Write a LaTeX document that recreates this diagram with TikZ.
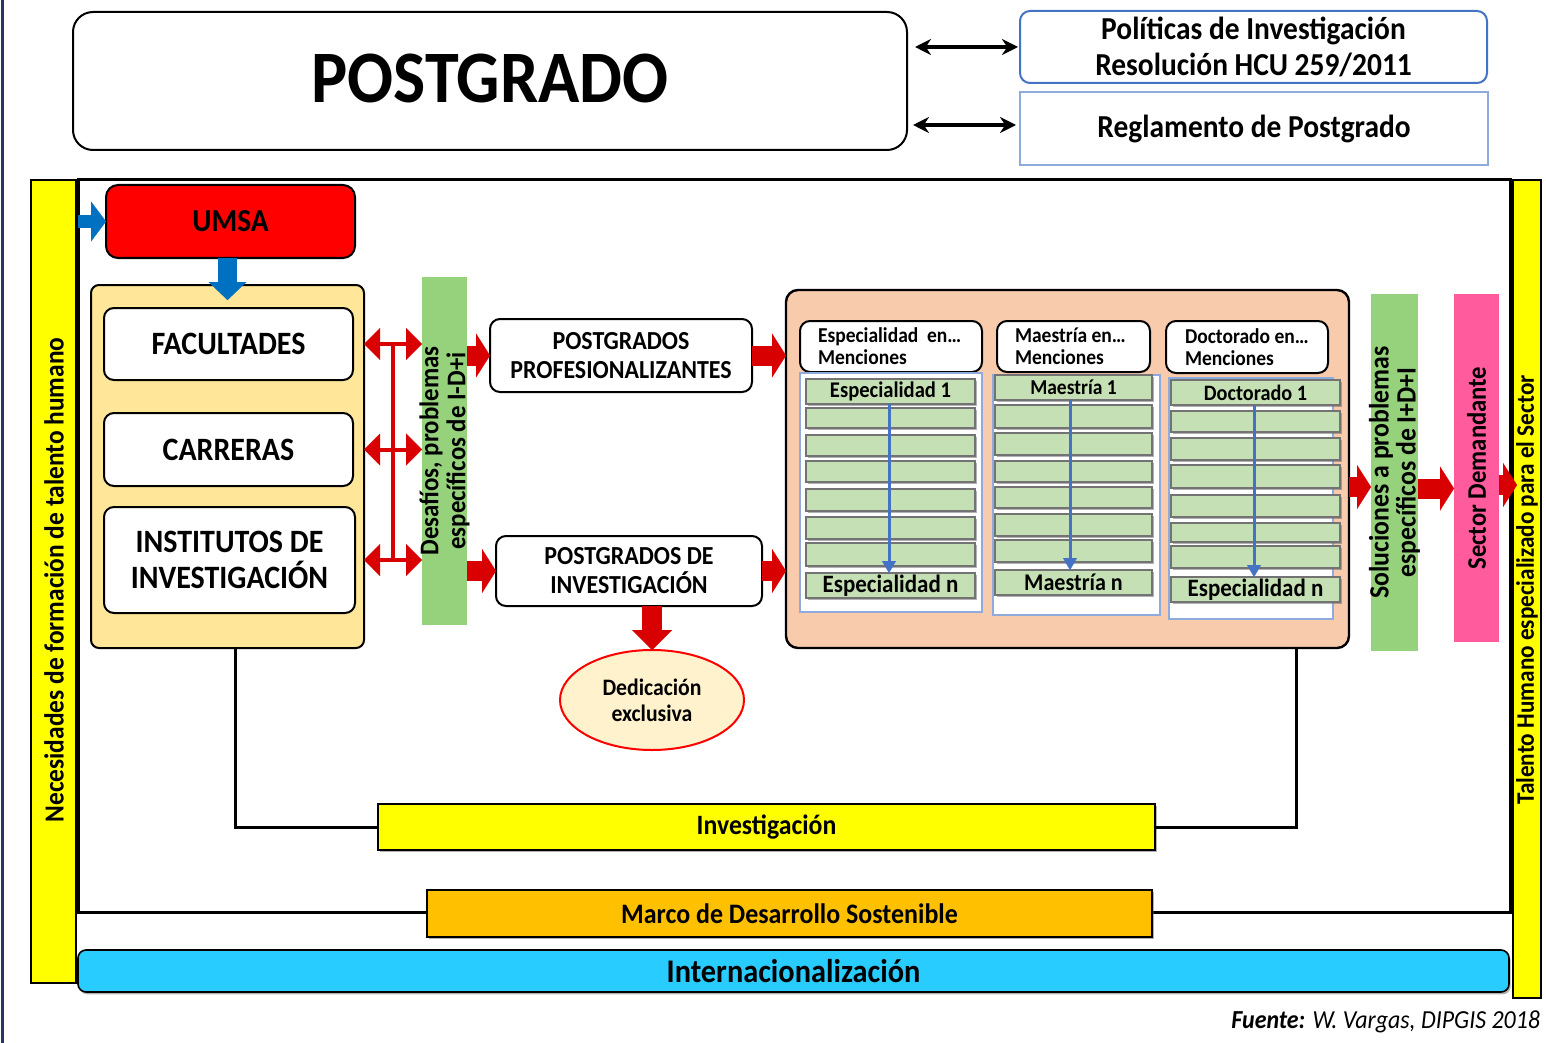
\documentclass[tikz,border=0pt]{standalone}
\usepackage{fontspec}
\setmainfont{Carlito}[FakeStretch=0.92]
\usetikzlibrary{arrows.meta,fit,shapes.geometric,calc,shadows}
\definecolor{cRed}{HTML}{FF0000}
\definecolor{cArrRed}{HTML}{D80000}
\definecolor{cBlue}{HTML}{0070C0}
\definecolor{cLBlue}{HTML}{4472C4}
\definecolor{cPale}{HTML}{8FAADC}
\definecolor{cCream}{HTML}{FFE699}
\definecolor{cGreen}{HTML}{96D17C}
\definecolor{cLGreen}{HTML}{C5E0B4}
\definecolor{cSalmon}{HTML}{F8CBAD}
\definecolor{cPink}{HTML}{FF5B9D}
\definecolor{cYellow}{HTML}{FFFF00}
\definecolor{cGold}{HTML}{FFC000}
\definecolor{cCyan}{HTML}{29CCFF}
\definecolor{cEll}{HTML}{FFF2CC}
\definecolor{cEdge}{HTML}{1F3864}
\newcommand\fsz[2]{\fontsize{#1}{#2}\selectfont\bfseries}
\begin{document}
\begin{tikzpicture}[x=0.5pt,y=-0.5pt,
  every node/.style={inner sep=0pt, outer sep=0pt},
  fitbox/.style={fit={#1}, inner sep=0pt},
  wbox/.style={draw=black, fill=white, line width=1pt, rounded corners=5pt},
  gbar/.style={draw=black!55, fill=cLGreen, line width=0.8pt},
  shad/.style={drop shadow={shadow xshift=0.8pt, shadow yshift=-1.2pt, fill=black!60}},
  redblk/.style={draw=cArrRed, line width=10pt, -{Triangle[length=7pt,width=22pt,line width=0.01pt]}},
  reddbl/.style={draw=cArrRed, line width=2pt, {Triangle[length=8pt,width=16pt,line width=0.01pt]}-{Triangle[length=8pt,width=16pt,line width=0.01pt]}},
  colarrow/.style={draw=cLBlue, line width=1.5pt, -{Triangle[length=6pt,width=7pt,line width=0.01pt]}},
  blkdbl/.style={line width=2pt, {Stealth[length=8pt,width=8pt]}-{Stealth[length=8pt,width=8pt]}}
]
\useasboundingbox (0,0) rectangle (1546,1043);
\fill[white] (0,0) rectangle (1546,1043);
\draw[cEdge, line width=1.5pt] (2,0) -- (2,1043);

% top
\node[wbox, rounded corners=10pt, fitbox={(73,12)(907,150)}] (pg) {};
\node[font=\fsz{37}{40}] (pgt) at ([yshift=1.5pt]pg) {POSTGRADO};
\node[fill=white, draw=cLBlue, line width=1pt, rounded corners=5pt, fitbox={(1020,11)(1487,83)}] (pol) {};
\node[align=center, font=\fsz{16}{18}] (polt) at (pol) {Políticas de Investigación\\Resolución HCU 259/2011};
\node[fill=white, draw=cPale, line width=0.8pt, fitbox={(1020,92)(1488,165)}] (reg) {};
\node[font=\fsz{16}{18}] (regt) at (reg) {Reglamento de Postgrado};
\draw[blkdbl] ([xshift=4pt]pg.east |- pol.west) -- ([xshift=-1pt]pol.west);
\draw[blkdbl] ([xshift=3pt]pg.east |- 0,125) -- ([xshift=-2pt]reg.west |- 0,125);

% frame and side bars
\node[draw, line width=1.5pt, fitbox={(78,180)(1510,912)}] (frame) {};
\node[fill=cYellow, draw, line width=0.8pt, fitbox={(31,180)(76,983)}] (lbar) {};
\node[rotate=90, font=\fsz{13.8}{15}] (ltxt) at (54,580) {Necesidades de formación de talento humano};
\node[fill=cYellow, draw, line width=0.8pt, fitbox={(1513,180)(1541,998)}] (rbar) {};
\node[rotate=90, font=\fsz{12.6}{13}] (rtxt) at (1527,590) {Talento Humano especializado para el Sector};

% UMSA and left block
\node[fill=cRed, draw, line width=1pt, rounded corners=6pt, fitbox={(106,185)(355,258)}] (umsa) {};
\node[font=\fsz{16}{18}] (umsat) at (umsa) {UMSA};
\node[fill=cCream, draw, line width=1pt, rounded corners=4pt, fitbox={(91,285)(364,648)}] (yb) {};
\draw[cBlue, line width=6.5pt, -{Triangle[length=7.5pt,width=20pt,line width=0.01pt]}] (frame.west |- umsa.west) -- (umsa.west);
\draw[cBlue, line width=9.5pt, -{Triangle[length=9pt,width=19pt,line width=0.01pt]}] ([xshift=-1.5pt]umsa.south) -- ([xshift=-1.5pt,yshift=-7.5pt]umsa.south |- yb.north);
\node[wbox, fitbox={(104,308)(353,380)}] (fac) {};
\node[font=\fsz{16.3}{18}] (fact) at (fac) {FACULTADES};
\node[wbox, fitbox={(104,413)(353,486)}] (car) {};
\node[font=\fsz{16.3}{18}] (cart) at (car) {CARRERAS};
\node[wbox, fitbox={(104,507)(355,613)}] (inst) {};
\node[align=center, font=\fsz{16.3}{18}] (instt) at (inst) {INSTITUTOS DE\\INVESTIGACIÓN};

% desafios bar
\node[fill=cGreen, fitbox={(422,277)(467,625)}] (des) {};
\node[rotate=90, align=center, font=\fsz{13.5}{13.5}] (destxt) at (des) {Desafíos, problemas\\específicos de I-D+i};
\foreach \n in {fac,car,inst}
  \draw[reddbl] (yb.east |- \n.east) -- (des.west |- \n.east);
\draw[cArrRed, line width=2pt] ($(yb.east |- fac.east)!0.5!(des.west |- fac.east)$) -- ($(yb.east |- inst.east)!0.5!(des.west |- inst.east)$);

% postgrado types
\node[wbox, fitbox={(490,319)(752,392)}] (ppro) {};
\node[align=center, font=\fsz{13}{14.5}] (pprot) at (ppro) {POSTGRADOS\\PROFESIONALIZANTES};
\node[wbox, fitbox={(496,536)(762,606)}] (pdi) {};
\node[align=center, font=\fsz{13}{14.5}] (pdit) at (pdi) {POSTGRADOS DE\\INVESTIGACIÓN};
\node[ellipse, draw=cRed, fill=cEll, line width=1pt, minimum width=92pt, minimum height=50pt, align=center, font=\fsz{11.8}{13}] (ded) at (652,700) {Dedicación\\exclusiva};
\draw[redblk] (des.east |- ppro.west) -- (ppro.west);
\draw[redblk] (des.east |- pdi.west) -- (pdi.west);
\draw[redblk, -{Triangle[length=10pt,width=20pt,line width=0.01pt]}] (ded.north |- pdi.south) -- (ded.north);

% salmon block
\node[fill=cSalmon, draw, line width=1.2pt, rounded corners=6pt, fitbox={(786,290)(1349,648)}] (sal) {};
\draw[redblk] (ppro.east) -- (sal.west |- ppro.east);
\draw[redblk] (pdi.east) -- (sal.west |- pdi.east);

\node[wbox, fitbox={(800,321)(982,372)}] (h1) {};
\node[anchor=west, align=left, font=\fsz{10.6}{11}] (h1t) at ([xshift=9pt]h1.west) {Especialidad\ \ en…\\Menciones};
\node[wbox, fitbox={(997,321)(1150,372)}] (h2) {};
\node[anchor=west, align=left, font=\fsz{10.6}{11}] (h2t) at ([xshift=9pt]h2.west) {Maestría en…\\Menciones};
\node[wbox, fitbox={(1166,321)(1328,373)}] (h3) {};
\node[anchor=west, align=left, font=\fsz{10.6}{11}] (h3t) at ([xshift=9.5pt]h3.west) {Doctorado en…\\Menciones};
\node[fill=white, draw=cPale, line width=0.8pt, fitbox={(800,373)(982,612)}] (f1) {};
\node[fill=white, draw=cPale, line width=0.8pt, fitbox={(993,375)(1160,615)}] (f2) {};
\node[fill=white, draw=cPale, line width=0.8pt, fitbox={(1169,378)(1333,619)}] (f3) {};

\node[gbar, shad, fitbox={(806,379)(975,404)}] (a1) {};
\foreach \i/\a/\b in {2/408/428,3/435/456,4/461/482,5/489/511,6/517/539,7/543/566}
  \node[gbar, shad, fitbox={(806,\a)(975,\b)}] (a\i) {};
\node[gbar, shad, fitbox={(806,573)(975,598)}] (a8) {};
\node[font=\fsz{11.2}{12}] (a1t) at (a1) {Especialidad 1};
\node[font=\fsz{12.5}{13}] (a8t) at (a8) {Especialidad n};

\node[gbar, shad, fitbox={(995,375)(1152,400)}] (b1) {};
\foreach \i/\a/\b in {2/405/428,3/433/455,4/461/482,5/487/508,6/514/536,7/540/562}
  \node[gbar, shad, fitbox={(995,\a)(1152,\b)}] (b\i) {};
\node[gbar, shad, fitbox={(995,570)(1152,595)}] (b8) {};
\node[font=\fsz{10.6}{12}] (b1t) at (b1) {Maestría 1};
\node[font=\fsz{12}{13}] (b8t) at (b8) {Maestría n};

\node[gbar, shad, fitbox={(1171,380)(1340,405)}] (c1) {};
\foreach \i/\a/\b in {2/411/432,3/438/460,4/465/488,5/495/517,6/523/542,7/546/568}
  \node[gbar, shad, fitbox={(1171,\a)(1340,\b)}] (c\i) {};
\node[gbar, shad, fitbox={(1171,577)(1340,602)}] (c8) {};
\node[font=\fsz{11}{12}] (c1t) at (c1) {Doctorado 1};
\node[font=\fsz{12.5}{13}] (c8t) at (c8) {Especialidad n};

\draw[colarrow] ([xshift=-0.75pt]a1.south) -- ([xshift=-0.75pt]a8.north);
\draw[colarrow] ([xshift=-1.75pt]b1.south) -- ([xshift=-1.75pt]b8.north);
\draw[colarrow] ([xshift=-0.75pt]c1.south) -- ([xshift=-0.75pt]c8.north);

% right side
\node[fill=cGreen, fitbox={(1371,294)(1418,651)}] (sol) {};
\node[rotate=90, align=center, font=\fsz{14}{13.5}] (soltxt) at (sol) {Soluciones a problemas\\específicos de I+D+I};
\node[fill=cPink, fitbox={(1454,294)(1499,642)}] (pink) {};
\node[rotate=90, font=\fsz{13.4}{14}] (pinktxt) at (pink) {Sector Demandante};
\draw[redblk] ([yshift=-9pt]sal.east) -- ([yshift=-9pt]sal.east -| sol.west);
\draw[redblk] ([yshift=-8pt]sol.east) -- ([yshift=-8pt]sol.east -| pink.west);
\draw[redblk] ([yshift=-8.5pt]pink.east) -- ([yshift=-8.5pt,xshift=2pt]pink.east -| rbar.west);

% bottom bands
\node[fill=cYellow, draw, line width=0.8pt, shad, fitbox={(378,804)(1155,850)}] (inv) {};
\node[font=\fsz{14}{14}] (invt) at (inv) {Investigación};
\draw[line width=1.5pt] ([xshift=3.75pt]yb.south) |- (inv.west);
\draw[line width=1.5pt] ([xshift=114.25pt]sal.south) |- (inv.east);
\node[fill=cGold, draw, line width=0.8pt, shad, fitbox={(427,890)(1152,937)}] (marco) {};
\node[font=\fsz{14.1}{14}] (marcot) at (marco) {Marco de Desarrollo Sostenible};
\node[fill=cCyan, draw, line width=0.8pt, rounded corners=4pt, shad, fitbox={(78,950)(1509,992)}] (intl) {};
\node[font=\fsz{16.5}{16}] (intlt) at (intl) {Internacionalización};

\node[anchor=east, font=\fontsize{13}{14}\selectfont\itshape] (src) at (1540,1022) {\textbf{Fuente:} W. Vargas, DIPGIS 2018};
\end{tikzpicture}
\end{document}
